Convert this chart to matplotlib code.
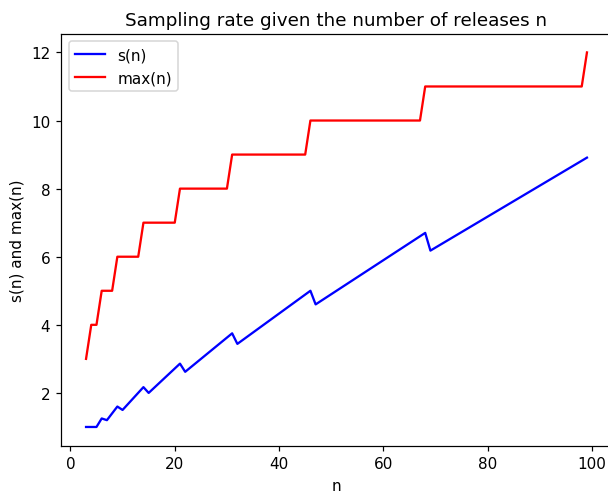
import matplotlib
matplotlib.use("Agg")
import matplotlib.pyplot as plt

# vertices of s(n)
s_n = [3, 5, 6, 7, 9, 10, 14, 15, 21, 22, 31, 32, 46, 47, 68, 69, 99]
s_vals = [1.0, 1.0, 1.25, 1.2, 1.6, 1.5, 2.17, 2.0, 2.86, 2.62,
          3.75, 3.44, 5.0, 4.6, 6.7, 6.18, 8.91]

# vertices of max(n)
max_n = [3, 4, 5, 6, 8, 9, 13, 14, 20, 21, 30, 31, 45, 46, 67, 68, 98, 99]
max_vals = [3, 4, 4, 5, 5, 6, 6, 7, 7, 8, 8, 9, 9, 10, 10, 11, 11, 12]

dpi = 110
fig = plt.figure(figsize=(608 / dpi, 493 / dpi), dpi=dpi)
# the reference is cropped on the right, so the axes run past the edge
ax = fig.add_axes([61 / 608, 1 - 446.7 / 493, 551 / 608, 412 / 493])

ax.plot(s_n, s_vals, color="b", label="s(n)")
ax.plot(max_n, max_vals, color="r", label="max(n)")

ax.set_title("Sampling rate given the number of releases n")
ax.set_xlabel("n")
ax.set_ylabel("s(n) and max(n)")
ax.legend(loc="upper left")

fig.savefig("out.png", dpi=dpi)
